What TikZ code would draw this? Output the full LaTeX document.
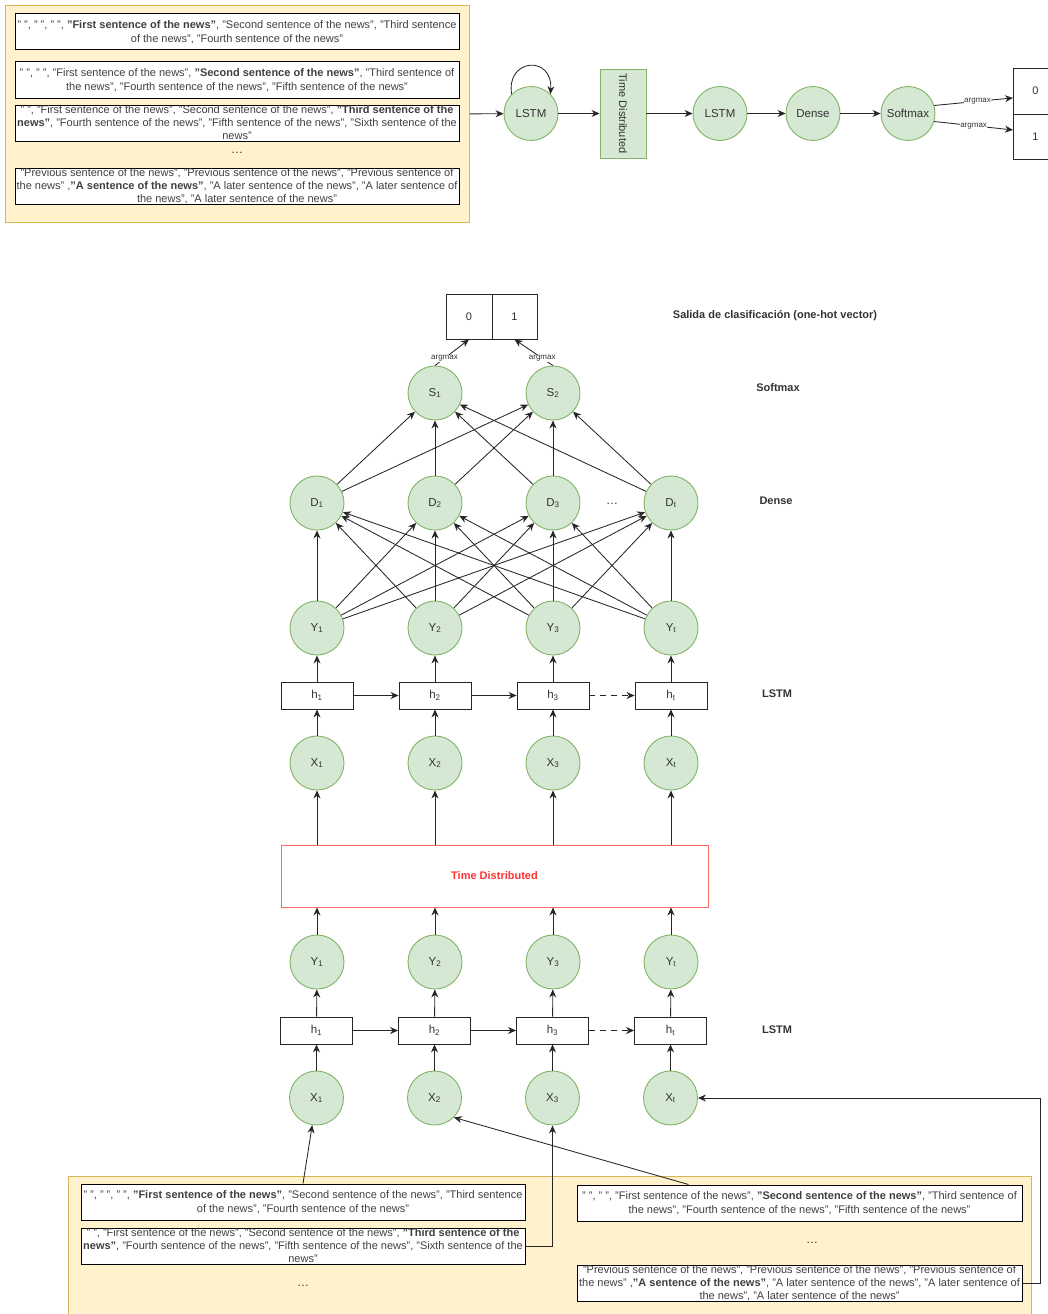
\documentclass[tikz,border=0pt]{standalone}
\usepackage{fontspec}
\setmainfont{Liberation Sans}
\usetikzlibrary{arrows.meta,calc}
\definecolor{nfill}{HTML}{D5E8D4}
\definecolor{nline}{HTML}{82B366}
\definecolor{yfill}{HTML}{FFF2CC}
\definecolor{yline}{HTML}{D6B656}
\definecolor{redline}{HTML}{FF6666}
\definecolor{redtext}{HTML}{FF3333}
\definecolor{txt}{HTML}{333333}
\begin{document}
\begin{tikzpicture}[x=1pt,y=-1pt,
  neuron/.style={circle, fill=nfill, draw=nline, line width=0.9pt, minimum size=54pt, inner sep=0pt, font=\fontsize{11.5}{13}\selectfont, text=txt},
  hbox/.style={draw=black!85, line width=0.9pt, fill=white, minimum width=72pt, minimum height=27pt, inner sep=0pt, font=\fontsize{11.5}{13}\selectfont, text=txt},
  cell/.style={draw=black!85, line width=0.9pt, fill=white, minimum width=46pt, minimum height=45pt, inner sep=0pt, font=\fontsize{11}{13}\selectfont, text=txt},
  sent/.style={draw=black, line width=1pt, fill=white, minimum width=444pt, minimum height=36pt, inner sep=0pt, align=center, font=\fontsize{11}{13.5}\selectfont, text=black!75},
  ybox/.style={draw=yline, fill=yfill, line width=0.8pt, anchor=north west, inner sep=0pt},
  arr/.style={-{Stealth[length=8pt,width=7pt]}, line width=0.85pt, draw=black!85},
  argl/.style={fill=white, inner sep=0.5pt, font=\fontsize{8}{9}\selectfont, text=txt},
  side/.style={font=\bfseries\fontsize{11}{13}\selectfont, text=txt},
  dotsl/.style={font=\fontsize{12}{13}\selectfont, text=txt}]
\useasboundingbox (0,0) rectangle (1048,1314);

% ---------------- top overview ----------------
\node[ybox, minimum width=464pt, minimum height=217pt] (ytop) at (5,5) {};
\node[sent] (t1) at (237,32) {" ", " ", " ", \textbf{"First sentence of the news"}, "Second sentence of the news", "Third sentence\\of the news", "Fourth sentence of the news"};
\node[sent] (t2) at (237,80) {" ", " ", "First sentence of the news", \textbf{"Second sentence of the news"}, "Third sentence of\\the news", "Fourth sentence of the news", "Fifth sentence of the news"};
\node[sent, font=\fontsize{11}{13}\selectfont] (t3) at (237,123) {" ", "First sentence of the news", "Second sentence of the news", \textbf{"Third sentence of the}\\\textbf{news"}, "Fourth sentence of the news", "Fifth sentence of the news", "Sixth sentence of the\\news"};
\node[dotsl] (tdots) at (237,153) {\ldots};
\node[sent, font=\fontsize{11}{13}\selectfont] (t4) at (237,186) {"Previous sentence of the news", "Previous sentence of the news", "Previous sentence of\\the news" ,\textbf{"A sentence of the news"}, "A later sentence of the news", "A later sentence of\\the news", "A later sentence of the news"};

\node[neuron] (lstmA) at (531,113.5) {LSTM};
\node[fill=nfill, draw=nline, line width=0.9pt, minimum width=46pt, minimum height=89pt, inner sep=0pt] (tdA) at (623,113.5) {};
\node[rotate=-90, font=\fontsize{11}{13}\selectfont, text=txt] (tdAt) at (tdA.center) {Time Distributed};
\node[neuron] (lstmB) at (720,113.5) {LSTM};
\node[neuron] (denseA) at (813,113.5) {Dense};
\node[neuron] (softA) at (908,113.5) {Softmax};
\node[cell, minimum height=45.5pt, anchor=north west] (c0) at (1013,68) {};
\node[font=\fontsize{11}{13}\selectfont, text=txt] (c0t) at (1035.5,90.75) {0};
\node[cell, minimum height=45.5pt, anchor=north west] (c1) at (1013,113.5) {};
\node[font=\fontsize{11}{13}\selectfont, text=txt] (c1t) at (1035.5,136.25) {1};

\draw[arr] (ytop.east) -- (lstmA);
\draw[arr] (lstmA.135) .. controls (506,58) and (553,55) .. (lstmA.45);
\draw[arr] (lstmA) -- (tdA);
\draw[arr] (tdA) -- (lstmB);
\draw[arr] (lstmB) -- (denseA);
\draw[arr] (denseA) -- (softA);
\draw[arr] (softA.17) -- node[argl, pos=0.55] {argmax} (c0.196);
\draw[arr] (softA.-17) -- node[argl, pos=0.5] {argmax} (c1.164);

% ---------------- detailed network ----------------
\node[cell] (oc0) at (469,316.5) {0};
\node[cell, minimum width=45pt] (oc1) at (514.5,316.5) {1};
\node[side] (lblout) at (775,316) {Salida de clasificación (one-hot vector)};

\node[neuron] (S1) at (435,393) {S\textsubscript{1}};
\node[neuron] (S2) at (553,393) {S\textsubscript{2}};
\node[side] (lblsoft) at (778,388) {Softmax};
\draw[arr] (S1.north) -- node[argl, pos=0.28] {argmax} (oc0.south);
\draw[arr] (S2.north) -- node[argl, pos=0.28] {argmax} (oc1.south);

\node[neuron] (D1) at (317,503) {D\textsubscript{1}};
\node[neuron] (D2) at (435,503) {D\textsubscript{2}};
\node[neuron] (D3) at (553,503) {D\textsubscript{3}};
\node[neuron] (Dt) at (671,503) {D\textsubscript{t}};
\node[dotsl] (ddots) at (612,504) {\ldots};
\node[side] (lbldense) at (776,501) {Dense};

\foreach \d in {D1,D2,D3,Dt}{
  \foreach \s in {S1,S2}{
    \draw[arr] (\d) -- (\s);
  }
}

\node[neuron] (Y1) at (317,628) {Y\textsubscript{1}};
\node[neuron] (Y2) at (435,628) {Y\textsubscript{2}};
\node[neuron] (Y3) at (553,628) {Y\textsubscript{3}};
\node[neuron] (Yt) at (671,628) {Y\textsubscript{t}};

\foreach \y in {Y1,Y2,Y3,Yt}{
  \foreach \d in {D1,D2,D3,Dt}{
    \draw[arr] (\y) -- (\d);
  }
}

\node[hbox] (h1) at (317,695.5) {h\textsubscript{1}};
\node[hbox] (h2) at (435,695.5) {h\textsubscript{2}};
\node[hbox] (h3) at (553,695.5) {h\textsubscript{3}};
\node[hbox] (ht) at (671,695.5) {h\textsubscript{t}};
\node[side] (lbllstm1) at (777,694) {LSTM};

\node[neuron] (X1) at (317,763) {X\textsubscript{1}};
\node[neuron] (X2) at (435,763) {X\textsubscript{2}};
\node[neuron] (X3) at (553,763) {X\textsubscript{3}};
\node[neuron] (Xt) at (671,763) {X\textsubscript{t}};

\draw[arr] (h1) -- (h2);
\draw[arr] (h2) -- (h3);
\draw[arr, dashed, dash pattern=on 6pt off 5pt] (h3) -- (ht);
\foreach \i in {1,2,3,t}{
  \draw[arr] (h\i) -- (Y\i);
  \draw[arr] (X\i) -- (h\i);
}

\node[draw=redline, line width=0.9pt, fill=white, minimum width=427pt, minimum height=62pt, inner sep=0pt, text=redtext, font=\bfseries\fontsize{11}{13}\selectfont] (red) at (494.5,876) {Time Distributed};
\foreach \i in {1,2,3,t}{
  \draw[arr] (red.north -| X\i) -- (X\i);
}

\node[neuron] (Yb1) at (317,962) {Y\textsubscript{1}};
\node[neuron] (Yb2) at (435,962) {Y\textsubscript{2}};
\node[neuron] (Yb3) at (553,962) {Y\textsubscript{3}};
\node[neuron] (Ybt) at (671,962) {Y\textsubscript{t}};
\foreach \i in {1,2,3,t}{
  \draw[arr] (Yb\i) -- (red.south -| Yb\i);
}

\node[hbox] (hb1) at (316.5,1030.5) {h\textsubscript{1}};
\node[hbox] (hb2) at (434.5,1030.5) {h\textsubscript{2}};
\node[hbox] (hb3) at (552.5,1030.5) {h\textsubscript{3}};
\node[hbox] (hbt) at (670.5,1030.5) {h\textsubscript{t}};
\node[side] (lbllstm2) at (777,1030) {LSTM};

\node[neuron] (Xb1) at (316.5,1098) {X\textsubscript{1}};
\node[neuron] (Xb2) at (434.5,1098) {X\textsubscript{2}};
\node[neuron] (Xb3) at (552.5,1098) {X\textsubscript{3}};
\node[neuron] (Xbt) at (670.5,1098) {X\textsubscript{t}};

\draw[arr] (hb1) -- (hb2);
\draw[arr] (hb2) -- (hb3);
\draw[arr, dashed, dash pattern=on 6pt off 5pt] (hb3) -- (hbt);
\foreach \i in {1,2,3,t}{
  \draw[arr] (hb\i) -- (Yb\i);
  \draw[arr] (Xb\i) -- (hb\i);
}

% ---------------- bottom inputs ----------------
\node[ybox, minimum width=963pt, minimum height=160pt] (ybot) at (68,1176) {};
\node[sent] (bA) at (303,1202) {" ", " ", " ", \textbf{"First sentence of the news"}, "Second sentence of the news", "Third sentence\\of the news", "Fourth sentence of the news"};
\node[sent, font=\fontsize{11}{13}\selectfont] (bB) at (303,1246) {" ", "First sentence of the news", "Second sentence of the news", \textbf{"Third sentence of the}\\\textbf{news"}, "Fourth sentence of the news", "Fifth sentence of the news", "Sixth sentence of the\\news"};
\node[dotsl] (bdots1) at (303,1286) {\ldots};
\node[sent, minimum width=445pt] (bC) at (799.5,1203) {" ", " ", "First sentence of the news", \textbf{"Second sentence of the news"}, "Third sentence of\\the news", "Fourth sentence of the news", "Fifth sentence of the news"};
\node[dotsl] (bdots2) at (812,1243) {\ldots};
\node[sent, minimum width=445pt, font=\fontsize{11}{13}\selectfont] (bD) at (799.5,1283) {"Previous sentence of the news", "Previous sentence of the news", "Previous sentence of\\the news" ,\textbf{"A sentence of the news"}, "A later sentence of the news", "A later sentence of\\the news", "A later sentence of the news"};

\draw[arr] (bA.north) -- (Xb1);
\draw[arr] ($(bC.north)+(-111,0)$) -- (Xb2.-45);
\draw[arr] (bB.east) -| (Xb3);
\draw[arr] (bD.east) -- ++(18,0) |- (Xbt);
\end{tikzpicture}
\end{document}
